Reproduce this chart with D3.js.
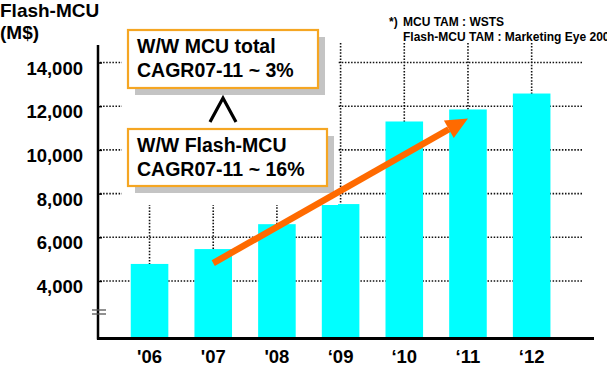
<!DOCTYPE html>
<meta charset="utf-8">
<style>
body { margin: 0; background: #fff; }
svg { display: block; font-family: "Liberation Sans", Arial, sans-serif; font-weight: bold; }
</style>
<body>
<svg id="chart" width="607" height="370"></svg>
<script src="https://d3js.org/d3.v7.min.js"></script>
<script>
// data
var years = ["'06", "'07", "'08", "\u201809", "\u201810", "\u201811", "\u201812"];
var sales = [4780, 5460, 6600, 7520, 11300, 11850, 12580];
var yTicks = [4000, 6000, 8000, 10000, 12000, 14000];
// trend arrow ('07 -> '11)
var arrowFrom = ["'07", 4820];
var arrowTo = ["\u201811", 11440];
var boxes = [
  {lines: ["W/W MCU total", "CAGR07-11 ~ 3%"]},
  {lines: ["W/W Flash-MCU", "CAGR07-11 ~ 16%"]}
];
var notes = ["*)", "MCU TAM : WSTS", "Flash-MCU TAM : Marketing Eye 2008"];

var svg = d3.select("#chart");

var x = d3.scaleBand().domain(years).range([117.7, 563.5])
    .paddingInner(0.41).paddingOuter(0.205);
var y = d3.scaleLinear().domain([1390, 14000]).range([338, 62.5]);
var fmt = d3.format(",");

// vertical dotted grid at bar centres
svg.append("g").selectAll("line").data(years).enter().append("line")
    .attr("x1", d => x(d) + x.bandwidth() / 2)
    .attr("x2", d => x(d) + x.bandwidth() / 2)
    .attr("y1", 43).attr("y2", 338)
    .attr("stroke", "#111").attr("stroke-width", 1.6)
    .attr("stroke-dasharray", "1.5,1.6");

// horizontal dotted grid
svg.append("g").selectAll("line").data(yTicks).enter().append("line")
    .attr("x1", 100).attr("x2", 582)
    .attr("y1", d => y(d)).attr("y2", d => y(d))
    .attr("stroke", "#111").attr("stroke-width", 1.6)
    .attr("stroke-dasharray", "1.5,1.6");

// bars
svg.append("g").selectAll("rect").data(sales).enter().append("rect")
    .attr("x", (d, i) => x(years[i]))
    .attr("width", x.bandwidth())
    .attr("y", d => y(d))
    .attr("height", d => y.range()[0] - y(d))
    .attr("fill", "#00ffff");

// y axis
var yAxis = d3.axisRight(y).tickValues(yTicks).tickSize(4).tickFormat("");
var ya = svg.append("g").attr("transform", "translate(98,0)").call(yAxis);
ya.select(".domain").remove();
ya.selectAll(".tick line").attr("stroke", "#000").attr("stroke-width", 1.5);
svg.append("line").attr("x1", 98).attr("x2", 98).attr("y1", 45).attr("y2", 339.5)
    .attr("stroke", "#000").attr("stroke-width", 2.5);

svg.append("g").selectAll("text").data(yTicks).enter().append("text")
    .attr("x", 83).attr("y", d => y(d) + 12)
    .attr("text-anchor", "end").attr("font-size", 18.5)
    .text(d => fmt(d));

// axis break marks
[310, 314].forEach(function(by) {
  svg.append("line").attr("x1", 92).attr("x2", 106).attr("y1", by).attr("y2", by)
      .attr("stroke", "#555").attr("stroke-width", 1.3);
});

// x axis
svg.append("line").attr("x1", 97).attr("x2", 594).attr("y1", 338.5).attr("y2", 338.5)
    .attr("stroke", "#000").attr("stroke-width", 3);
svg.append("g").selectAll("text").data(years).enter().append("text")
    .attr("x", d => x(d) + x.bandwidth() / 2)
    .attr("y", 363)
    .attr("text-anchor", "middle").attr("font-size", 18.5)
    .text(d => d);

// axis title
svg.append("text").attr("x", 0).attr("y", 17).attr("font-size", 19).text("Flash-MCU");
svg.append("text").attr("x", 0).attr("y", 39).attr("font-size", 19).text("(M$)");

// footnote
svg.append("text").attr("x", 389).attr("y", 26).attr("font-size", 12).text(notes[0]);
svg.append("text").attr("x", 403).attr("y", 26).attr("font-size", 12).text(notes[1]);
svg.append("text").attr("x", 403).attr("y", 41).attr("font-size", 12).text(notes[2]);

// annotation area (white backing hides the grid)
svg.append("rect").attr("x", 122).attr("y", 26).attr("width", 216).attr("height", 179)
    .attr("fill", "#fff");

var boxPos = [
  {x: 128, y: 30, w: 190, h: 58},
  {x: 128, y: 129, w: 199, h: 57}
];
boxes.forEach(function(b, i) {
  var p = boxPos[i];
  svg.append("rect").attr("x", p.x + 7).attr("y", p.y + 7).attr("width", p.w).attr("height", p.h)
      .attr("fill", "#c4c4c4");
  svg.append("rect").attr("x", p.x).attr("y", p.y).attr("width", p.w).attr("height", p.h)
      .attr("fill", "#fff").attr("stroke", "#f5a623").attr("stroke-width", 2.2);
  b.lines.forEach(function(t, j) {
    svg.append("text").attr("x", p.x + 9).attr("y", p.y + 23 + j * 24)
        .attr("font-size", 19.5).text(t);
  });
});

// "greater than" chevron between the boxes
svg.append("path").attr("d", "M210,122L223,98L236,122")
    .attr("fill", "none").attr("stroke", "#000").attr("stroke-width", 3.2);

// trend arrow, drawn on top
var ax1 = x(arrowFrom[0]) + x.bandwidth() / 2, ay1 = y(arrowFrom[1]);
var ax2 = x(arrowTo[0]) + x.bandwidth() / 2, ay2 = y(arrowTo[1]);
var ang = Math.atan2(ay2 - ay1, ax2 - ax1);
var headLen = 22, headW = 10;
var bx = ax2 - headLen * Math.cos(ang), by = ay2 - headLen * Math.sin(ang);
svg.append("line").attr("x1", ax1).attr("y1", ay1).attr("x2", bx).attr("y2", by)
    .attr("stroke", "#ff6a00").attr("stroke-width", 6.5);
svg.append("path")
    .attr("d", "M" + ax2 + "," + ay2 +
      "L" + (bx + headW * Math.sin(ang)) + "," + (by - headW * Math.cos(ang)) +
      "L" + (bx - headW * Math.sin(ang)) + "," + (by + headW * Math.cos(ang)) + "Z")
    .attr("fill", "#ff6a00");
</script>
</body>
